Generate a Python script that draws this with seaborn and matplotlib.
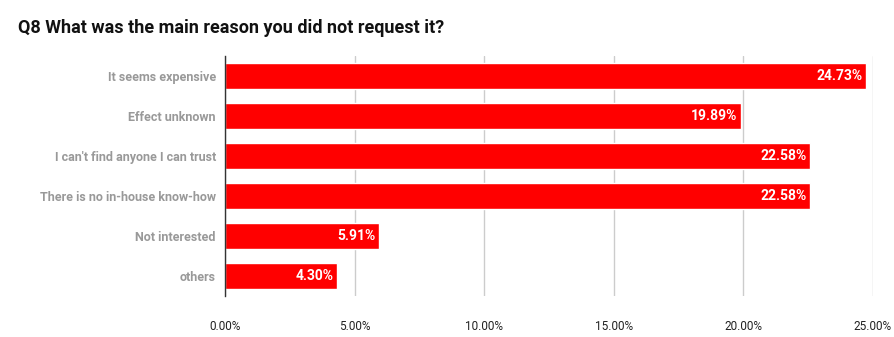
import matplotlib
matplotlib.use("Agg")
import matplotlib.pyplot as plt
import seaborn as sns
import pandas as pd

categories = ["It seems expensive", "Effect unknown", "I can't find anyone I can trust",
              "There is no in-house know-how", "Not interested", "others"]
values = [24.73, 19.89, 22.58, 22.58, 5.91, 4.30]
xticks = [0, 5, 10, 15, 20, 25]
title = "Q8 What was the main reason you did not request it?"

sns.set_theme(style="white")
plt.rcParams['font.family'] = ['Roboto', 'DejaVu Sans']

df = pd.DataFrame({"reason": categories, "pct": values})

fig = plt.figure(figsize=(8.95, 3.37), dpi=100)
ax = fig.add_axes([225.5/895, 1-296/337, (873-225.5)/895, (296-56)/337])
sns.barplot(data=df, y="reason", x="pct", color="#ff0000", width=0.66, ax=ax,
            saturation=1, orient="h")

ax.set_xlim(0, 25)
ax.set_xticks(xticks)
ax.set_xticklabels([f"{v:.2f}%" for v in xticks], fontsize=8.5, color="#222222")
ax.grid(axis="x", color="#cccccc", linewidth=1)
ax.set_axisbelow(True)
for s in ["top", "right", "bottom"]:
    ax.spines[s].set_visible(False)
ax.spines["left"].set_color("#333333")
ax.spines["left"].set_linewidth(1)
ax.tick_params(axis="x", length=0, pad=17)
ax.tick_params(axis="y", length=0, pad=7)
for lab in ax.get_yticklabels():
    lab.set_fontsize(9)
    lab.set_color("#999999")
    lab.set_fontweight("bold")
ax.set_xlabel("")
ax.set_ylabel("")

for i, v in enumerate(values):
    ax.text(v - 0.12, i, f"{v:.2f}%", ha="right", va="center", color="white",
            fontsize=10, fontweight="bold")

fig.text(18/895, 1-28/337, title, fontsize=13, fontweight="bold", color="#111111",
         ha="left", va="center")

fig.savefig("out.png", dpi=100, facecolor="white")
